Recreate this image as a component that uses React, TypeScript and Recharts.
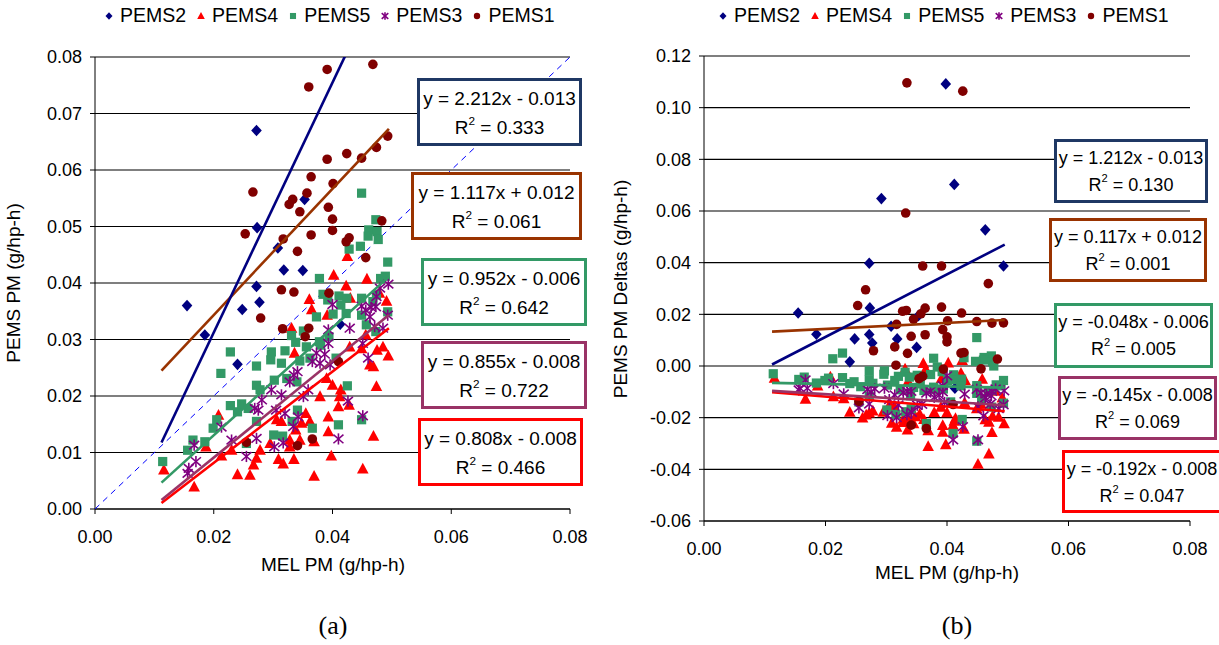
import React from "react";
import { ScatterChart, Scatter, XAxis, YAxis, CartesianGrid } from "recharts";

const FONT = '"Liberation Sans", Arial, Helvetica, sans-serif';
const SERIF = '"Liberation Serif", "Times New Roman", serif';

type Pt = [number, number];

// [MEL PM, PEMS PM] in g/hp-h; points above 0.08
const PEMS2_PTS: Pt[] = [
  [0.0155, 0.036], [0.0185, 0.0308], [0.024, 0.0256], [0.0248, 0.0353], [0.0272, 0.0394],
  [0.0277, 0.0366], [0.0273, 0.0498], [0.0272, 0.067], [0.0292, 0.094], [0.0308, 0.0462],
  [0.0318, 0.0423], [0.035, 0.0422], [0.0353, 0.0548], [0.0398, 0.149], [0.0412, 0.1115],
  [0.0413, 0.0327], [0.0463, 0.099], [0.0493, 0.088],
];

const PEMS4_PTS: Pt[] = [
  [0.0425, 0.0447], [0.0402, 0.0414], [0.0423, 0.0395], [0.0458, 0.0407], [0.0361, 0.0371],
  [0.0365, 0.0353], [0.0391, 0.0343], [0.043, 0.0373], [0.0491, 0.0368], [0.0479, 0.0382],
  [0.0331, 0.032], [0.0456, 0.0308], [0.0485, 0.0287], [0.0494, 0.0271], [0.0336, 0.0276],
  [0.0449, 0.0284], [0.0475, 0.0281], [0.0429, 0.0287], [0.0463, 0.0255], [0.0469, 0.0252],
  [0.039, 0.0231], [0.04, 0.0219], [0.0414, 0.0211], [0.0379, 0.0199], [0.0412, 0.0199],
  [0.0428, 0.0184], [0.0474, 0.0217], [0.041, 0.0181], [0.0393, 0.0163], [0.0355, 0.0169],
  [0.0362, 0.0155], [0.0338, 0.014], [0.0348, 0.0152], [0.0314, 0.0155], [0.0306, 0.0158],
  [0.0328, 0.0122], [0.0328, 0.011], [0.0345, 0.0122], [0.0369, 0.0119], [0.0393, 0.0137],
  [0.0469, 0.0129], [0.0398, 0.0094], [0.0451, 0.0071], [0.0369, 0.0058], [0.0335, 0.0088],
  [0.0309, 0.0088], [0.0317, 0.008], [0.0272, 0.009], [0.0261, 0.006], [0.024, 0.0061],
  [0.0267, 0.0078], [0.0278, 0.0104], [0.0295, 0.0116], [0.023, 0.0104], [0.0213, 0.0094],
  [0.0208, 0.0166], [0.0187, 0.011], [0.0167, 0.0039], [0.0116, 0.0069],
];

const PEMS5_PTS: Pt[] = [
  [0.0449, 0.0559], [0.0473, 0.0512], [0.0461, 0.0494], [0.046, 0.0483], [0.0475, 0.0491],
  [0.0477, 0.0477], [0.0447, 0.0465], [0.0428, 0.046], [0.0493, 0.0437], [0.0378, 0.0408],
  [0.0489, 0.0412], [0.0481, 0.0408], [0.0384, 0.038], [0.0392, 0.037], [0.0411, 0.0377],
  [0.0424, 0.0373], [0.0414, 0.0361], [0.0401, 0.0345], [0.0423, 0.0346], [0.0474, 0.0379],
  [0.0468, 0.0367], [0.0493, 0.0349], [0.0449, 0.0373], [0.0373, 0.034], [0.0331, 0.0307],
  [0.0351, 0.0315], [0.0338, 0.0295], [0.0356, 0.0287], [0.0378, 0.0296], [0.0394, 0.0305],
  [0.0297, 0.0278], [0.032, 0.028], [0.0228, 0.0278], [0.0473, 0.0314], [0.0457, 0.0326],
  [0.0449, 0.0343], [0.0296, 0.0264], [0.0314, 0.0258], [0.0272, 0.0253], [0.0345, 0.0262],
  [0.0362, 0.0267], [0.038, 0.029], [0.0406, 0.0267], [0.0212, 0.024], [0.0272, 0.0219],
  [0.0278, 0.0211], [0.0302, 0.0228], [0.0323, 0.0231], [0.0228, 0.0183], [0.0247, 0.0186],
  [0.024, 0.0172], [0.0258, 0.0178], [0.0272, 0.0155], [0.0205, 0.0158], [0.0199, 0.0143],
  [0.0165, 0.0122], [0.0156, 0.0104], [0.0185, 0.0119], [0.0114, 0.0084], [0.0301, 0.0131],
  [0.0316, 0.0129], [0.0255, 0.0116], [0.0341, 0.0175], [0.0332, 0.0155], [0.0366, 0.0143],
  [0.041, 0.0149], [0.0425, 0.0218], [0.0449, 0.0158], [0.034, 0.0225],
];

const PEMS3_PTS: Pt[] = [
  [0.0494, 0.0398], [0.048, 0.0391], [0.0474, 0.0376], [0.0449, 0.0359], [0.0456, 0.0352],
  [0.0465, 0.0357], [0.0473, 0.0358], [0.0463, 0.034], [0.0493, 0.0343], [0.0485, 0.032],
  [0.0471, 0.0323], [0.0429, 0.032], [0.04, 0.0362], [0.0393, 0.0317], [0.0393, 0.0293],
  [0.0373, 0.0276], [0.0387, 0.0274], [0.0451, 0.0293], [0.0366, 0.0261], [0.0379, 0.0258],
  [0.0396, 0.0255], [0.0341, 0.0243], [0.0335, 0.0237], [0.0328, 0.0225], [0.0359, 0.0211],
  [0.0351, 0.0199], [0.0297, 0.0211], [0.0314, 0.0202], [0.0281, 0.0193], [0.0269, 0.0178],
  [0.0275, 0.0175], [0.0305, 0.0175], [0.032, 0.0169], [0.0342, 0.0163], [0.0334, 0.0146],
  [0.0426, 0.0191], [0.0451, 0.0165], [0.041, 0.0124], [0.0317, 0.0117], [0.0302, 0.011],
  [0.0272, 0.0125], [0.023, 0.0122], [0.0255, 0.0093], [0.0213, 0.0145], [0.0167, 0.0113],
  [0.017, 0.0084], [0.0158, 0.0072], [0.0156, 0.0063], [0.046, 0.0267],
];

const PEMS1_PTS: Pt[] = [
  [0.0391, 0.0778], [0.0468, 0.0787], [0.036, 0.0747], [0.0493, 0.066], [0.0474, 0.064],
  [0.0424, 0.0629], [0.0391, 0.0619], [0.0449, 0.0621], [0.0364, 0.0588], [0.0401, 0.0576],
  [0.0266, 0.0561], [0.0357, 0.0559], [0.0333, 0.0548], [0.0327, 0.0539], [0.0393, 0.0534],
  [0.0345, 0.0526], [0.04, 0.0513], [0.0483, 0.051], [0.0253, 0.0487], [0.0317, 0.0478],
  [0.0364, 0.0485], [0.04, 0.0493], [0.0423, 0.0473], [0.0428, 0.048], [0.0341, 0.0456],
  [0.0456, 0.0445], [0.0314, 0.0388], [0.0335, 0.0384], [0.0394, 0.0382], [0.0279, 0.0338],
  [0.0316, 0.0319], [0.036, 0.032], [0.0354, 0.0305], [0.041, 0.0261], [0.0255, 0.0118],
  [0.0341, 0.0112], [0.0366, 0.0124], [0.0334, 0.143], [0.0426, 0.149], [0.0332, 0.0924],
];

const SERIES_NAMES = ["PEMS2", "PEMS4", "PEMS5", "PEMS3", "PEMS1"];
const SERIES_PTS = [PEMS2_PTS, PEMS4_PTS, PEMS5_PTS, PEMS3_PTS, PEMS1_PTS];

// trendline labels, in the order the boxes are stacked
const FIT_NAMES = ["PEMS2", "PEMS1", "PEMS5", "PEMS3", "PEMS4"];
const FIT_SLOPE_A = [2.212, 1.117, 0.952, 0.855, 0.808];
const FIT_ICPT_A = [-0.013, 0.012, -0.006, -0.008, -0.008];
const FIT_R2_A = [0.333, 0.061, 0.642, 0.722, 0.466];
const FIT_SLOPE_B = [1.212, 0.117, -0.048, -0.145, -0.192];
const FIT_ICPT_B = [-0.013, 0.012, -0.006, -0.008, -0.008];
const FIT_R2_B = [0.13, 0.001, 0.005, 0.069, 0.047];
const FIT_X_RANGE = [0.0112, 0.0495];
const ONE_TO_ONE: Pt[] = [[0, 0], [0.08, 0.08]];

const X_TICKS = [0, 0.02, 0.04, 0.06, 0.08];
const Y_TICKS_A = [0, 0.01, 0.02, 0.03, 0.04, 0.05, 0.06, 0.07, 0.08];
const Y_TICKS_B = [-0.06, -0.04, -0.02, 0, 0.02, 0.04, 0.06, 0.08, 0.1, 0.12];

const COLORS: Record<string, { mark: string; line: string; box: string }> = {
  PEMS2: { mark: "#000080", line: "#000080", box: "#1F3864" },
  PEMS4: { mark: "#FF0000", line: "#FF0000", box: "#FF0000" },
  PEMS5: { mark: "#339966", line: "#339966", box: "#339966" },
  PEMS3: { mark: "#800080", line: "#993366", box: "#993366" },
  PEMS1: { mark: "#800000", line: "#993300", box: "#993300" },
};

// box placement (left, top, width, height) for each panel
const BOXES_A = [
  [417, 78, 165, 68], [411, 172, 171, 68], [421, 258, 166, 68], [421, 341, 166, 68], [418, 418, 165, 68],
];
const BOXES_B = [
  [1054, 139, 154, 64], [1049, 218, 158, 64], [1054, 303, 159, 65], [1058, 376, 159, 64], [1062, 450, 160, 63],
];

function Marker({ kind, cx, cy, s = 1 }: { kind: string; cx: number; cy: number; s?: number }) {
  const c = COLORS[kind].mark;
  if (kind === "PEMS2")
    return <polygon points={`${cx},${cy - 5.8 * s} ${cx + 5.3 * s},${cy} ${cx},${cy + 5.8 * s} ${cx - 5.3 * s},${cy}`} fill={c} />;
  if (kind === "PEMS4")
    return <polygon points={`${cx},${cy - 6.2 * s} ${cx + 5.8 * s},${cy + 4.6 * s} ${cx - 5.8 * s},${cy + 4.6 * s}`} fill={c} />;
  if (kind === "PEMS5")
    return <rect x={cx - 4.6 * s} y={cy - 4.6 * s} width={9.2 * s} height={9.2 * s} fill={c} />;
  if (kind === "PEMS3")
    return (
      <g stroke={c} strokeWidth={1.6}>
        <line x1={cx - 5 * s} y1={cy - 4.3 * s} x2={cx + 5 * s} y2={cy + 4.3 * s} />
        <line x1={cx - 5 * s} y1={cy + 4.3 * s} x2={cx + 5 * s} y2={cy - 4.3 * s} />
        <line x1={cx} y1={cy - 5.6 * s} x2={cx} y2={cy + 5.6 * s} />
      </g>
    );
  return <circle cx={cx} cy={cy} r={4.8 * s} fill={c} />;
}

function eqText(slope: number, icpt: number) {
  return `y = ${slope.toFixed(3)}x ${icpt < 0 ? "-" : "+"} ${Math.abs(icpt).toFixed(3)}`;
}

function Legend({ left }: { left: number }) {
  return (
    <div style={{ position: "absolute", left, top: 4, display: "flex", alignItems: "center", font: `19.5px ${FONT}`, color: "#000" }}>
      {SERIES_NAMES.map((n) => (
        <div key={n} style={{ display: "flex", alignItems: "center", marginRight: 9 }}>
          <svg width={12} height={12} style={{ marginRight: 5 }}>
            <Marker kind={n} cx={6} cy={6} s={0.66} />
          </svg>
          <span>{n}</span>
        </div>
      ))}
    </div>
  );
}

function Boxes({ boxes, slopes, icpts, r2s, fontSize, lineHeight }: any) {
  return (
    <>
      {FIT_NAMES.map((n, i) => {
        const [l, t, w, h] = boxes[i];
        return (
          <div
            key={n}
            style={{
              position: "absolute", left: l, top: t, width: w, height: h, boxSizing: "border-box",
              border: `3px solid ${COLORS[n].box}`, background: "#fff", textAlign: "center",
              font: `${fontSize}px ${FONT}`, lineHeight: `${lineHeight}px`, paddingTop: 3, color: "#000",
              whiteSpace: "nowrap",
            }}
          >
            <div>{eqText(slopes[i], icpts[i])}</div>
            <div>
              R<span style={{ fontSize: fontSize * 0.62, position: "relative", top: -9 }}>2</span> = {r2s[i].toFixed(3)}
            </div>
          </div>
        );
      })}
    </>
  );
}

const tickStyle = { fill: "#000", fontSize: 18, fontFamily: FONT };

function Panel({ delta, width, height, margin, yTicks, yWidth, slopes, icpts, diagonal }: any) {
  const yDomain = [yTicks[0], yTicks[yTicks.length - 1]];
  return (
    <ScatterChart width={width} height={height} margin={margin}>
      <CartesianGrid vertical={false} stroke="#000" strokeWidth={1.2} />
      <XAxis
        type="number" dataKey="x" domain={[0, 0.08]} ticks={X_TICKS} allowDataOverflow
        tickFormatter={(v: number) => v.toFixed(2)} tick={tickStyle} tickSize={5} tickMargin={16}
        axisLine={{ stroke: "#000" }} tickLine={{ stroke: "#000" }} height={30}
      />
      <YAxis
        type="number" dataKey="y" domain={yDomain} ticks={yTicks} allowDataOverflow
        tickFormatter={(v: number) => v.toFixed(2)} tick={tickStyle} tickSize={5} tickMargin={8}
        axisLine={{ stroke: "#000" }} tickLine={{ stroke: "#000" }} width={yWidth}
      />
      {diagonal && (
        <Scatter
          data={ONE_TO_ONE.map(([x, y]) => ({ x, y }))} isAnimationActive={false}
          line={{ stroke: "#0000FF", strokeWidth: 1, strokeDasharray: "6 5" }} shape={() => <g />}
        />
      )}
      {SERIES_NAMES.map((n, i) => (
        <Scatter
          key={n}
          data={SERIES_PTS[i].map(([x, y]) => ({ x, y: delta ? y - x : y }))}
          isAnimationActive={false}
          shape={(p: any) => <Marker kind={n} cx={p.cx} cy={p.cy} />}
        />
      ))}
      {[4, 3, 2, 1, 0].map((i) => (
        <Scatter
          key={"fit" + i}
          data={FIT_X_RANGE.map((x) => ({ x, y: slopes[i] * x + icpts[i] }))}
          isAnimationActive={false}
          line={{ stroke: COLORS[FIT_NAMES[i]].line, strokeWidth: 2.6 }}
          shape={() => <g />}
        />
      ))}
    </ScatterChart>
  );
}

function Title({ text, cx, cy, rotate, font }: any) {
  return (
    <div
      style={{
        position: "absolute", left: cx - 200, top: cy - 18, width: 400, height: 36, lineHeight: "36px",
        textAlign: "center", font, color: "#000", transform: rotate ? "rotate(-90deg)" : undefined,
      }}
    >
      {text}
    </div>
  );
}

export default function App() {
  return (
    <div style={{ position: "absolute", left: 0, top: 0, width: 1219, height: 645, background: "#fff", overflow: "hidden" }}>
      <div style={{ position: "absolute", left: 0, top: 0 }}>
        <Panel
          delta={false} width={600} height={600} margin={{ top: 57, right: 30, bottom: 61, left: 0 }}
          yTicks={Y_TICKS_A} yWidth={95} slopes={FIT_SLOPE_A} icpts={FIT_ICPT_A} diagonal
        />
      </div>
      <div style={{ position: "absolute", left: 604, top: 0 }}>
        <Panel
          delta width={606} height={600} margin={{ top: 56, right: 20, bottom: 49, left: 0 }}
          yTicks={Y_TICKS_B} yWidth={100} slopes={FIT_SLOPE_B} icpts={FIT_ICPT_B}
        />
      </div>

      <Legend left={103} />
      <Legend left={717} />

      <Boxes boxes={BOXES_A} slopes={FIT_SLOPE_A} icpts={FIT_ICPT_A} r2s={FIT_R2_A} fontSize={19} lineHeight={29} />
      <Boxes boxes={BOXES_B} slopes={FIT_SLOPE_B} icpts={FIT_ICPT_B} r2s={FIT_R2_B} fontSize={18} lineHeight={27} />

      <Title text="PEMS PM (g/hp-h)" cx={21} cy={283} rotate font={`19px ${FONT}`} />
      <Title text="PEMS PM Deltas (g/hp-h)" cx={628} cy={289} rotate font={`19px ${FONT}`} />
      <Title text="MEL PM (g/hp-h)" cx={333} cy={572} font={`19px ${FONT}`} />
      <Title text="MEL PM (g/hp-h)" cx={947} cy={580} font={`19px ${FONT}`} />
      <Title text="(a)" cx={333} cy={629} font={`26px ${SERIF}`} />
      <Title text="(b)" cx={957} cy={629} font={`26px ${SERIF}`} />
    </div>
  );
}
